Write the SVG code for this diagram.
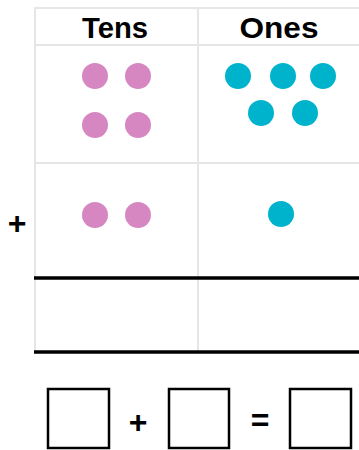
<svg xmlns="http://www.w3.org/2000/svg" width="359" height="450" viewBox="0 0 359 450">
<style>
.grid{stroke:#e6e6e6;stroke-width:2;fill:none}
.thick{stroke:#000;stroke-width:3.5;fill:none}
.box{stroke:#000;stroke-width:2.5;fill:#fff}
.pink{fill:#d687c1}
.teal{fill:#00b3cc}
.hdr{font-family:"Liberation Sans",Arial,sans-serif;font-weight:bold;font-size:30px;text-anchor:middle;fill:#000}
.op{font-family:"Liberation Sans",Arial,sans-serif;font-weight:bold;font-size:32px;text-anchor:middle;fill:#000}
</style>
<rect width="359" height="450" fill="#fff"/>
<g id="grid">
<line class="grid" x1="35" y1="8" x2="359" y2="8"/>
<line class="grid" x1="35" y1="45" x2="359" y2="45"/>
<line class="grid" x1="35" y1="163" x2="359" y2="163"/>
<line class="grid" x1="35" y1="7" x2="35" y2="352"/>
<line class="grid" x1="198" y1="7" x2="198" y2="352"/>
<line class="thick" x1="34" y1="278" x2="359" y2="278"/>
<line class="thick" x1="34" y1="352" x2="359" y2="352"/>
</g>
<g id="headers">
<text class="hdr" x="115" y="38" textLength="66" lengthAdjust="spacingAndGlyphs">Tens</text>
<text class="hdr" x="279" y="38" textLength="79" lengthAdjust="spacingAndGlyphs">Ones</text>
</g>
<g id="row1">
<circle class="pink" cx="95" cy="76" r="13"/>
<circle class="pink" cx="138" cy="76" r="13"/>
<circle class="pink" cx="95" cy="125" r="13"/>
<circle class="pink" cx="138" cy="125" r="13"/>
<circle class="teal" cx="238" cy="76" r="13"/>
<circle class="teal" cx="283" cy="76" r="13"/>
<circle class="teal" cx="323" cy="76" r="13"/>
<circle class="teal" cx="261" cy="113" r="13"/>
<circle class="teal" cx="305" cy="113" r="13"/>
</g>
<g id="row2">
<text class="op" x="17" y="234">+</text>
<circle class="pink" cx="95" cy="215" r="13"/>
<circle class="pink" cx="138" cy="215" r="13"/>
<circle class="teal" cx="281" cy="214" r="13"/>
</g>
<g id="equation">
<rect class="box" x="48" y="389" width="61" height="59"/>
<text class="op" x="138" y="433">+</text>
<rect class="box" x="169" y="389" width="60" height="59"/>
<text class="op" x="260" y="431">=</text>
<rect class="box" x="290" y="389" width="61" height="59"/>
</g>
</svg>
